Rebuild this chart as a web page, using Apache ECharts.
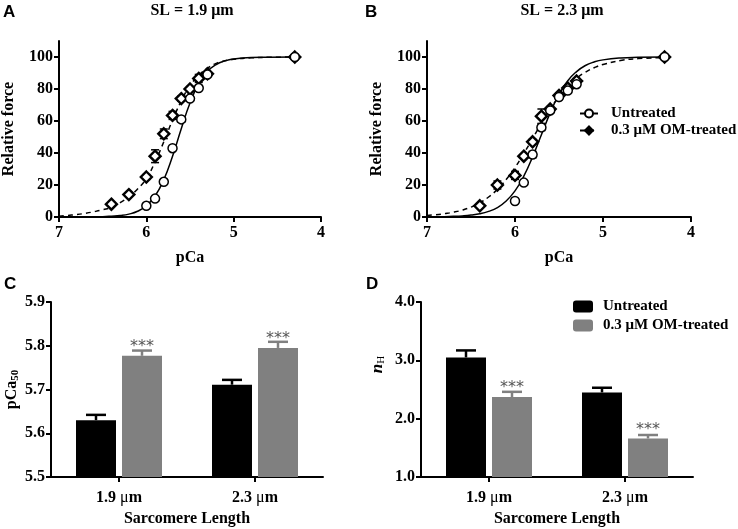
<!DOCTYPE html>
<html>
<head>
<meta charset="UTF-8">
<script src="https://cdn.jsdelivr.net/npm/echarts@6/dist/echarts.min.js"></script>
<style>
    html, body { margin: 0; padding: 0; background: #fff; }
    #main { width: 738px; height: 529px; }
</style>
</head>
<body>
<div id="main"></div>
<script>
    // ---- panels A / B : force-pCa points (mean +/- sem) ----
    var pcaUntreated = [6.0, 5.9, 5.8, 5.7, 5.6, 5.5, 5.4, 5.3, 4.3];
    var pcaOM = [6.4, 6.2, 6.0, 5.9, 5.8, 5.7, 5.6, 5.5, 5.4, 5.3, 4.3];

    var forceA_U = [7, 11.5, 22, 43, 61, 74, 80.6, 89, 100];
    var errA_U = [1, 1, 1, 1, 1.5, 1, 1, 1, 0];
    var forceA_OM = [8, 14, 25, 38, 52, 63.5, 74, 80, 86.6, 89.5, 100];
    var errA_OM = [1, 1, 1.5, 4, 3, 2.5, 1.5, 1.5, 2.5, 1, 0];

    var forceB_U = [10, 21.5, 39, 56, 66.6, 75, 79, 83, 100];
    var errB_U = [0.5, 1, 2, 2, 1, 1, 1, 1, 0];
    var forceB_OM = [7, 20, 26, 38, 47, 63, 67.5, 76, 80.6, 85, 100];
    var errB_OM = [1, 2.5, 2.5, 1, 1.5, 4.5, 1.5, 1.5, 1.5, 1.5, 0];

    // fitted curves
    var fitPca = [7.0, 6.9, 6.8, 6.7, 6.6, 6.5, 6.4, 6.3, 6.2, 6.1, 6.0, 5.9, 5.8, 5.7, 5.6, 5.5, 5.4, 5.3, 5.2, 5.1, 5.0, 4.8, 4.6, 4.3];
    var fitA_U = [0, 0, 0, 0.1, 0.1, 0.2, 0.5, 0.9, 1.8, 3.6, 7.0, 13.1, 23.3, 38.0, 55.2, 71.3, 83.3, 91.0, 95.3, 97.6, 98.8, 99.7, 99.9, 100];
    var fitA_OM = [0.5, 1, 1.5, 2.3, 3.3, 4.5, 6, 9, 12.5, 17.5, 24, 34.5, 47, 60.5, 72.5, 82, 88.5, 93, 96, 97.6, 98.6, 99.5, 99.8, 100];
    var fitB_U = [0.1, 0.1, 0.2, 0.4, 0.7, 1.2, 2.0, 3.5, 5.9, 10.0, 16.3, 25.5, 37.6, 51.4, 65.1, 76.6, 85.2, 90.9, 94.7, 96.9, 98.2, 99.4, 99.8, 100];
    var fitB_OM = [1.0, 1.4, 2.1, 3.0, 4.3, 6.2, 8.8, 12.5, 17.3, 23.4, 30.9, 39.7, 49.0, 58.5, 67.4, 75.2, 81.6, 86.7, 90.5, 93.3, 95.3, 97.8, 99.0, 99.6];

    var forceTicks = [0, 20, 40, 60, 80, 100];

    // ---- panels C / D : bars ----
    var slCats = ['1.9 μm', '2.3 μm'];
    var pca50_U = [5.630, 5.711];
    var pca50_U_err = [0.012, 0.011];
    var pca50_OM = [5.777, 5.795];
    var pca50_OM_err = [0.012, 0.014];
    var nH_U = [3.05, 2.45];
    var nH_U_err = [0.12, 0.08];
    var nH_OM = [2.37, 1.66];
    var nH_OM_err = [0.09, 0.06];

    var nameU = 'Untreated';
    var nameOM = '0.3 μM OM-treated';
    var serif = 'Liberation Serif';
    var bold16 = {fontFamily: serif, fontWeight: 'bold', fontSize: 16, color: '#000'};

    function zip(xs, ys) {
        return xs.map(function (x, i) { return [x, ys[i]]; });
    }
    function errData(xs, ys, es) {
        return xs.map(function (x, i) { return [x, ys[i] - es[i], ys[i] + es[i]]; });
    }

    function errRender(params, api) {
        var lo = api.coord([api.value(0), api.value(1)]);
        var hi = api.coord([api.value(0), api.value(2)]);
        var w = 4;
        var st = {stroke: '#000', lineWidth: 1.5};
        return {
            type: 'group', children: [
                {type: 'line', shape: {x1: lo[0], y1: lo[1], x2: hi[0], y2: hi[1]}, style: st},
                {type: 'line', shape: {x1: lo[0] - w, y1: lo[1], x2: lo[0] + w, y2: lo[1]}, style: st},
                {type: 'line', shape: {x1: hi[0] - w, y1: hi[1], x2: hi[0] + w, y2: hi[1]}, style: st}
            ]
        };
    }

    function barErr(offset, color) {
        return function (params, api) {
            var b = api.coord([api.value(0), api.value(1)]);
            var t = api.coord([api.value(0), api.value(2)]);
            var x = b[0] + offset;
            var st = {stroke: color, lineWidth: 2.5};
            return {
                type: 'group', children: [
                    {type: 'line', shape: {x1: x, y1: b[1], x2: x, y2: t[1]}, style: st},
                    {type: 'line', shape: {x1: x - 10, y1: t[1], x2: x + 10, y2: t[1]}, style: st}
                ]
            };
        };
    }

    function curvePanel(g, fitU, fitOM, pU, eU, pOM, eOM) {
        return [
            {
                name: nameU, type: 'line', xAxisIndex: g, yAxisIndex: g, smooth: true,
                symbol: 'circle', symbolSize: 9, showSymbol: false, silent: true,
                itemStyle: {color: '#fff', borderColor: '#000', borderWidth: 1.5},
                lineStyle: {color: '#000', width: 1.5},
                data: zip(fitPca, fitU), z: 2
            },
            {
                name: nameOM, type: 'line', xAxisIndex: g, yAxisIndex: g, smooth: true,
                symbol: 'diamond', symbolSize: 10, showSymbol: false, silent: true,
                itemStyle: {color: '#000', borderColor: '#000', borderWidth: 1.5},
                lineStyle: {color: '#000', width: 1.5, type: [5, 4]},
                data: zip(fitPca, fitOM), z: 2
            },
            {
                type: 'custom', xAxisIndex: g, yAxisIndex: g, renderItem: errRender,
                data: errData(pcaOM, pOM, eOM), z: 3
            },
            {
                type: 'custom', xAxisIndex: g, yAxisIndex: g, renderItem: errRender,
                data: errData(pcaUntreated, pU, eU), z: 3
            },
            {
                type: 'scatter', xAxisIndex: g, yAxisIndex: g, symbol: 'diamond', symbolSize: 11,
                itemStyle: {color: '#fff', borderColor: '#000', borderWidth: 2.4, opacity: 1},
                data: zip(pcaOM, pOM), z: 4
            },
            {
                type: 'scatter', xAxisIndex: g, yAxisIndex: g, symbol: 'circle', symbolSize: 9,
                itemStyle: {color: '#fff', borderColor: '#000', borderWidth: 1.5, opacity: 1},
                data: zip(pcaUntreated, pU), z: 5
            }
        ];
    }

    function barPanel(g, vU, eU, vOM, eOM) {
        return [
            {
                name: 'barU', type: 'bar', xAxisIndex: g, yAxisIndex: g, barWidth: 40, barGap: '15%',
                itemStyle: {color: '#000'}, data: vU
            },
            {
                name: 'barOM', type: 'bar', xAxisIndex: g, yAxisIndex: g, barWidth: 40, barGap: '15%',
                itemStyle: {color: '#808080'}, data: vOM,
                label: {
                    show: true, position: 'top', distance: 1, formatter: '***',
                    fontFamily: 'DejaVu Sans', fontSize: 16, color: '#555'
                }
            },
            {
                type: 'custom', xAxisIndex: g, yAxisIndex: g, renderItem: barErr(-23, '#000'),
                data: vU.map(function (v, i) { return [i, v, v + eU[i]]; }), z: 1
            },
            {
                type: 'custom', xAxisIndex: g, yAxisIndex: g, renderItem: barErr(23, '#808080'),
                data: vOM.map(function (v, i) { return [i, v, v + eOM[i]]; }), z: 1
            }
        ];
    }

    var axLine = {show: true, onZero: false, lineStyle: {color: '#000', width: 2}};
    var axTick = {show: true, length: 5, lineStyle: {color: '#000', width: 2}};

    function pcaXAxis(g) {
        return {
            gridIndex: g, type: 'value', min: 4, max: 7, interval: 1, inverse: true,
            name: 'pCa', nameLocation: 'middle', nameGap: 33, nameTextStyle: bold16,
            axisLine: axLine, axisTick: axTick, splitLine: {show: false},
            axisLabel: {margin: 8, fontFamily: serif, fontWeight: 'bold', fontSize: 16, color: '#000'}
        };
    }
    function forceYAxis(g) {
        return {
            gridIndex: g, type: 'value', min: 0, max: 110, interval: 10,
            name: 'Relative force', nameLocation: 'middle', nameGap: 42, nameTextStyle: bold16,
            axisLine: axLine, splitLine: {show: false},
            axisTick: {show: true, length: 5, lineStyle: {color: '#000', width: 2}, customValues: forceTicks},
            axisLabel: {customValues: forceTicks, margin: 6, fontFamily: serif, fontWeight: 'bold', fontSize: 16, color: '#000'}
        };
    }
    function catXAxis(g) {
        return {
            gridIndex: g, type: 'category', data: slCats,
            name: 'Sarcomere Length', nameLocation: 'middle', nameGap: 34, nameTextStyle: bold16,
            axisLine: axLine, axisTick: {show: true, alignWithLabel: true, length: 5, lineStyle: {color: '#000', width: 2}},
            axisLabel: {
                margin: 13,
                formatter: function (v) {
                    var p = v.split('μ');
                    return '{b|' + p[0] + '}{u|μ}{b|' + p[1] + '}';
                },
                rich: {
                    b: {fontFamily: serif, fontWeight: 'bold', fontSize: 16, color: '#000'},
                    u: {fontFamily: serif, fontSize: 16, color: '#000'}
                }
            }
        };
    }

    var letter = {fontFamily: 'Liberation Sans', fontWeight: 'bold', fontSize: 17, color: '#000'};
    var legendText = {fontFamily: serif, fontWeight: 'bold', fontSize: 15, color: '#000'};
    var option = {
        backgroundColor: '#fff',
        animation: false,
        title: [
            {text: 'A', left: 3, top: 4, padding: 0, textStyle: letter},
            {text: 'B', left: 365, top: 4, padding: 0, textStyle: letter},
            {text: 'C', left: 4, top: 276, padding: 0, textStyle: letter},
            {text: 'D', left: 366, top: 276, padding: 0, textStyle: letter},
            {text: 'SL = 1.9 μm', left: 192, textAlign: 'center', top: 3, padding: 0, textStyle: bold16},
            {text: 'SL = 2.3 μm', left: 562, textAlign: 'center', top: 3, padding: 0, textStyle: bold16}
        ],
        legend: [
            {
                left: 579, top: 106, padding: 0, orient: 'vertical', itemWidth: 18, itemHeight: 10, itemGap: 2,
                data: [nameU, nameOM],
                textStyle: Object.assign({padding: [0, 0, 0, 8]}, legendText)
            },
            {
                left: 573, top: 299, padding: 0, orient: 'vertical', itemWidth: 20, itemHeight: 12, itemGap: 4,
                icon: 'roundRect', data: ['barU', 'barOM'],
                formatter: function (n) { return n === 'barU' ? nameU : nameOM; },
                textStyle: Object.assign({padding: [0, 0, 0, 5]}, legendText)
            }
        ],
        grid: [
            {left: 57, top: 41, width: 264, height: 176},
            {left: 427, top: 41, width: 264, height: 176},
            {left: 51, top: 302, width: 272, height: 175},
            {left: 421, top: 302, width: 272, height: 175}
        ],
        xAxis: [pcaXAxis(0), pcaXAxis(1), catXAxis(2), catXAxis(3)],
        yAxis: [
            forceYAxis(0),
            forceYAxis(1),
            {
                gridIndex: 2, type: 'value', min: 5.5, max: 5.9, interval: 0.1,
                name: '{a|pCa}{s|50}', nameLocation: 'middle', nameGap: 30,
                nameTextStyle: {rich: {
                    a: {fontFamily: serif, fontWeight: 'bold', fontSize: 16, color: '#000'},
                    s: {fontFamily: serif, fontWeight: 'bold', fontSize: 11, color: '#000', padding: [7, 0, 0, 0]}
                }},
                axisLine: axLine, axisTick: axTick, splitLine: {show: false},
                axisLabel: {margin: 6, formatter: function (v) { return v.toFixed(1); }, fontFamily: serif, fontWeight: 'bold', fontSize: 16, color: '#000'}
            },
            {
                gridIndex: 3, type: 'value', min: 1, max: 4, interval: 1,
                name: '{i|n}{s|H}', nameLocation: 'middle', nameGap: 34,
                nameTextStyle: {padding: [0, 0, 0, 50], rich: {
                    i: {fontFamily: serif, fontStyle: 'italic', fontWeight: 'bold', fontSize: 17, color: '#000'},
                    s: {fontFamily: serif, fontSize: 11, color: '#000', padding: [7, 0, 0, 0]}
                }},
                axisLine: axLine, axisTick: axTick, splitLine: {show: false},
                axisLabel: {margin: 6, formatter: function (v) { return v.toFixed(1); }, fontFamily: serif, fontWeight: 'bold', fontSize: 16, color: '#000'}
            }
        ],
        series: [].concat(
            curvePanel(0, fitA_U, fitA_OM, forceA_U, errA_U, forceA_OM, errA_OM),
            curvePanel(1, fitB_U, fitB_OM, forceB_U, errB_U, forceB_OM, errB_OM),
            barPanel(2, pca50_U, pca50_U_err, pca50_OM, pca50_OM_err),
            barPanel(3, nH_U, nH_U_err, nH_OM, nH_OM_err)
        )
    };

    var chart = echarts.init(document.getElementById('main'), null, {renderer: 'canvas'});
    chart.setOption(option);
</script>
</body>
</html>
